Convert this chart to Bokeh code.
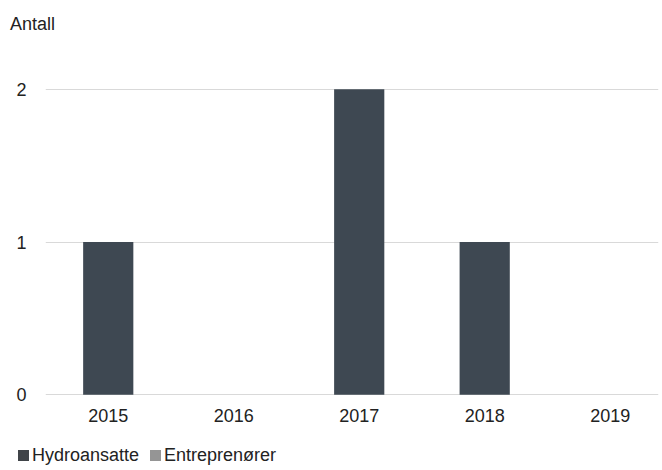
from bokeh.plotting import figure
from bokeh.models import ColumnDataSource, Range1d, FixedTicker, Div
from bokeh.layouts import column
from bokeh.embed import file_html
from bokeh.resources import INLINE

# ---- data ----
years = ["2015", "2016", "2017", "2018", "2019"]
hydroansatte = [1, 0, 2, 1, 0]
entreprenorer = [0, 0, 0, 0, 0]
series_names = ["Hydroansatte", "Entreprenører"]
series_colors = ["#3e4852", "#a5a5a5"]
legend_colors = ["#404448", "#959595"]
y_ticks = [0, 1, 2]
y_title = "Antall"

FONT = "Liberation Sans"
TEXT = "#222222"

idx = list(range(len(years)))
src = ColumnDataSource(dict(x=idx, hydro=hydroansatte, entre=entreprenorer))

p = figure(width=662, height=390,
           x_range=Range1d(-0.5, 4.385), y_range=Range1d(-0.005, 2.005),
           output_backend="svg", toolbar_location=None,
           min_border_left=45, min_border_right=4,
           min_border_top=48, min_border_bottom=35)
p.outline_line_color = None
p.background_fill_color = "white"
p.border_fill_color = "white"

p.vbar_stack(["hydro", "entre"], x="x", width=0.4, source=src,
             fill_color=series_colors, line_color=None)

p.xgrid.grid_line_color = None
p.ygrid.grid_line_color = "#d9d9d9"
p.ygrid.grid_line_width = 1

p.yaxis.ticker = FixedTicker(ticks=y_ticks)
p.xaxis.ticker = FixedTicker(ticks=idx)
p.xaxis.major_label_overrides = {i: y for i, y in zip(idx, years)}
for ax in (p.xaxis, p.yaxis):
    ax.axis_line_color = None
    ax.major_tick_line_color = None
    ax.minor_tick_line_color = None
    ax.major_label_text_font = FONT
    ax.major_label_text_font_size = "18px"
    ax.major_label_text_color = TEXT
p.yaxis.major_label_standoff = 13
p.xaxis.major_label_standoff = 7

base_style = f"font-family:'{FONT}';font-size:18px;line-height:21px;color:{TEXT};white-space:nowrap;"

title_div = Div(text=f'<div style="{base_style}padding:14px 0 0 10px;">{y_title}</div>',
                width=662, height=40, margin=0)

sq = "display:inline-block;width:11px;height:11px;vertical-align:baseline;"
items_html = []
for i, (name, col) in enumerate(zip(series_names, legend_colors)):
    ml = "0" if i == 0 else "11px"
    items_html.append(f'<span style="{sq}background:{col};margin-left:{ml};margin-right:3px;"></span>{name}')
legend_div = Div(text=f'<div style="{base_style}padding:15px 0 0 18px;">' + "".join(items_html) + '</div>',
                 width=662, height=40, margin=0)

layout = column(title_div, p, legend_div, spacing=0)

open("out.html", "w").write(file_html(layout, INLINE))
